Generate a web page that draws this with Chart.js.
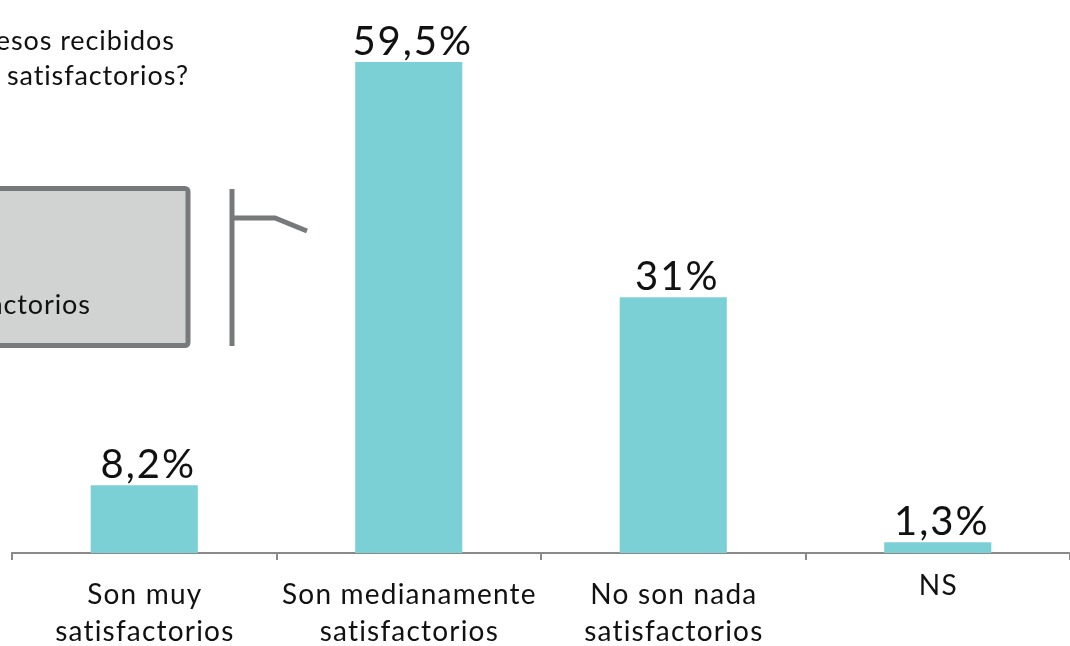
<!DOCTYPE html>
<html lang="es">
<head>
<meta charset="UTF-8">
<title>Satisfacción con los procesos recibidos</title>
<script src="https://cdn.jsdelivr.net/npm/chart.js"></script>
<style>
    html, body { margin: 0; padding: 0; background: #ffffff; overflow: hidden; }
</style>
</head>
<body>
<canvas id="chart" width="1070" height="646"></canvas>
<script>
const categorias = [
    ['Son muy', 'satisfactorios'],
    ['Son medianamente', 'satisfactorios'],
    ['No son nada', 'satisfactorios'],
    ['NS']
];
const porcentajes = [8.2, 59.5, 31, 1.3];

const FUENTE = 'Lato, "Open Sans", sans-serif';
const GRIS_EJE = '#8a8a8a';

function formato(v) {
    return String(v).replace('.', ',') + '%';
}

// text drawn with a little tracking, centred on x without the trailing gap
function texto(ctx, t, x, y, espacio, alinear) {
    ctx.letterSpacing = espacio + 'px';
    const w = ctx.measureText(t).width - espacio;
    let x0 = x;
    if (alinear === 'center') x0 = x - w / 2;
    else if (alinear === 'right') x0 = x - w;
    ctx.textAlign = 'left';
    ctx.fillText(t, x0, y);
}

// Title fragment, callout box and bracket on the left, plus value and category labels
const decoracion = {
    id: 'decoracion',
    afterDraw(chart) {
        const ctx = chart.ctx;
        const x = chart.scales.x;
        ctx.save();
        ctx.textBaseline = 'alphabetic';

        // title
        ctx.fillStyle = '#111111';
        ctx.font = '27px ' + FUENTE;
        texto(ctx, '¿Los procesos recibidos', 174, 50, 0.9, 'right');
        texto(ctx, 'son satisfactorios?', 188, 85, 0.9, 'right');

        // grey callout box
        ctx.fillStyle = '#d1d3d2';
        ctx.strokeStyle = '#767a7a';
        ctx.lineWidth = 5;
        ctx.beginPath();
        ctx.roundRect(-20, 188.5, 208, 157, 3);
        ctx.fill();
        ctx.stroke();
        ctx.fillStyle = '#111111';
        texto(ctx, 'satisfactorios', 90, 314, 0.9, 'right');

        // bracket
        ctx.lineWidth = 5;
        ctx.beginPath();
        ctx.moveTo(232, 189);
        ctx.lineTo(232, 346);
        ctx.stroke();
        ctx.beginPath();
        ctx.moveTo(232, 218);
        ctx.lineTo(275, 218);
        ctx.lineTo(307, 231);
        ctx.stroke();

        // value labels above the bars
        ctx.font = '40px ' + FUENTE;
        chart.getDatasetMeta(0).data.forEach((bar, i) => {
            texto(ctx, formato(porcentajes[i]), bar.x + 3, bar.y - 7, 2, 'center');
        });

        // category labels under the axis
        ctx.font = '28px ' + FUENTE;
        categorias.forEach((lineas, i) => {
            const cx = x.getPixelForValue(i);
            if (lineas.length === 1) {
                texto(ctx, lineas[0], cx, 595, 1.2, 'center');
            } else {
                lineas.forEach((t, j) => texto(ctx, t, cx, 604 + j * 37, 1.2, 'center'));
            }
        });

        ctx.restore();
    }
};

new Chart(document.getElementById('chart'), {
    type: 'bar',
    data: {
        labels: categorias.map(c => c.join(' ')),
        datasets: [{
            data: porcentajes,
            backgroundColor: '#7bd0d6',
            borderWidth: 0,
            categoryPercentage: 1,
            barPercentage: 0.405
        }]
    },
    options: {
        responsive: false,
        animation: false,
        layout: { padding: { left: 12, right: 0, top: 0, bottom: 0 } },
        plugins: {
            legend: { display: false },
            tooltip: { enabled: false }
        },
        scales: {
            x: {
                grid: {
                    offset: true,
                    drawOnChartArea: false,
                    tickLength: 7,
                    color: GRIS_EJE,
                    lineWidth: 2
                },
                border: { color: GRIS_EJE, width: 2 },
                ticks: { display: false },
                afterFit(scale) { scale.height = 93; }
            },
            y: {
                display: false,
                min: 0,
                max: 67
            }
        }
    },
    plugins: [decoracion]
});
</script>
</body>
</html>
